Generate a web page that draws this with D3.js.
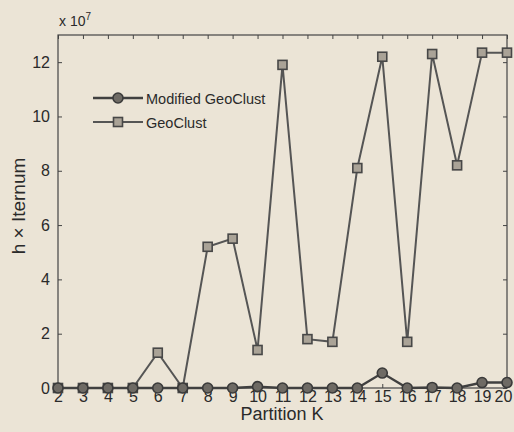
<!DOCTYPE html>
<meta charset="utf-8">
<html>
<head>
<script src="https://d3js.org/d3.v7.min.js"></script>
<style>
  body { margin: 0; background: #ebe4d6; }
  text { font-family: "Liberation Sans", Arial, sans-serif; fill: #2a2a2a; }
</style>
</head>
<body>
<svg id="chart" width="514" height="432"></svg>
</body>
</html>
<script>

// data (values in units of 1e7)
var partitions = [2,3,4,5,6,7,8,9,10,11,12,13,14,15,16,17,18,19,20];
var geoClust = [0,0,0,0,1.3,0,5.2,5.5,1.4,11.9,1.8,1.7,8.1,12.2,1.7,12.3,8.2,12.35,12.35];
var modifiedGeoClust = [0,0,0,0,0,0,0,0,0.05,0,0,0,0,0.55,0,0.02,0,0.2,0.2];
var yTicks = [0,2,4,6,8,10,12];

var svg = d3.select("#chart");
var margin = {left: 58, right: 7, top: 35, bottom: 44};
var width = 514 - margin.left - margin.right,
    height = 432 - margin.top - margin.bottom;

var x = d3.scaleLinear().domain([2, 20]).range([0, width]);
var y = d3.scaleLinear().domain([0, 13]).range([height, 0]);

var g = svg.append("g").attr("transform", "translate(" + margin.left + "," + margin.top + ")");

// box
g.append("rect")
  .attr("width", width).attr("height", height)
  .attr("fill", "none").attr("stroke", "#444").attr("stroke-width", 1.2);

// axes (inward ticks, matlab style)
var xAxis = g.append("g").attr("transform", "translate(0," + height + ")")
  .call(d3.axisBottom(x).tickValues(partitions).tickFormat(d3.format("d")).tickSizeInner(-4).tickSizeOuter(0).tickPadding(2));
var xTop = g.append("g")
  .call(d3.axisTop(x).tickValues(partitions).tickFormat("").tickSizeInner(-4).tickSizeOuter(0));
var yAxis = g.append("g")
  .call(d3.axisLeft(y).tickValues(yTicks).tickFormat(d3.format("d")).tickSizeInner(-4).tickSizeOuter(0).tickPadding(8));
var yRight = g.append("g").attr("transform", "translate(" + width + ",0)")
  .call(d3.axisRight(y).tickValues(yTicks).tickFormat("").tickSizeInner(-4).tickSizeOuter(0));

[xAxis, xTop, yAxis, yRight].forEach(function(a) {
  a.select(".domain").remove();
  a.selectAll(".tick line").attr("stroke", "#444");
  a.selectAll("text").style("font-size", "16px").attr("fill", "#2a2a2a");
});
xAxis.selectAll("text").attr("dy", "0.75em");
// last label sits against the right edge, as in the original
xAxis.selectAll(".tick").filter(function(d) { return d === 20; }).select("text").attr("x", -4);

// lines
var line = d3.line().x(function(d) { return x(d[0]); }).y(function(d) { return y(d[1]); });
var geoPts = partitions.map(function(k, i) { return [k, geoClust[i]]; });
var modPts = partitions.map(function(k, i) { return [k, modifiedGeoClust[i]]; });

g.append("path").datum(geoPts).attr("d", line)
  .attr("fill", "none").attr("stroke", "#555").attr("stroke-width", 2);
g.selectAll(".sq").data(geoPts).enter().append("rect")
  .attr("x", function(d) { return x(d[0]) - 4.5; })
  .attr("y", function(d) { return y(d[1]) - 4.5; })
  .attr("width", 9).attr("height", 9)
  .attr("fill", "#aaa397").attr("stroke", "#474747").attr("stroke-width", 1.6);

g.append("path").datum(modPts).attr("d", line)
  .attr("fill", "none").attr("stroke", "#404040").attr("stroke-width", 2.4);
g.selectAll(".ci").data(modPts).enter().append("circle")
  .attr("cx", function(d) { return x(d[0]); })
  .attr("cy", function(d) { return y(d[1]); })
  .attr("r", 5)
  .attr("fill", "#6e6a64").attr("stroke", "#3a3a3a").attr("stroke-width", 1.6);

// legend
var leg = svg.append("g").attr("transform", "translate(93,98)");
leg.append("line").attr("x1", 0).attr("x2", 50).attr("y1", 0).attr("y2", 0)
  .attr("stroke", "#404040").attr("stroke-width", 2.4);
leg.append("circle").attr("cx", 25).attr("cy", 0).attr("r", 5)
  .attr("fill", "#6e6a64").attr("stroke", "#3a3a3a").attr("stroke-width", 1.6);
leg.append("text").attr("x", 53).attr("y", 1).attr("dy", "0.35em")
  .style("font-size", "14.5px").text("Modified GeoClust");
leg.append("line").attr("x1", 0).attr("x2", 50).attr("y1", 24).attr("y2", 24)
  .attr("stroke", "#555").attr("stroke-width", 2);
leg.append("rect").attr("x", 20.5).attr("y", 19.5).attr("width", 9).attr("height", 9)
  .attr("fill", "#aaa397").attr("stroke", "#474747").attr("stroke-width", 1.6);
leg.append("text").attr("x", 53).attr("y", 25).attr("dy", "0.35em")
  .style("font-size", "14.5px").text("GeoClust");

// exponent label
var ex = svg.append("text").attr("x", 59).attr("y", 26).style("font-size", "14px");
ex.append("tspan").text("x 10");
ex.append("tspan").attr("dy", -6).style("font-size", "10px").text("7");

// axis labels
svg.append("text").attr("x", 282).attr("y", 420)
  .attr("text-anchor", "middle").style("font-size", "18px").text("Partition K");
svg.append("text")
  .attr("transform", "translate(25,206) rotate(-90)")
  .attr("text-anchor", "middle").style("font-size", "19px").text("h × Iternum");

</script>
